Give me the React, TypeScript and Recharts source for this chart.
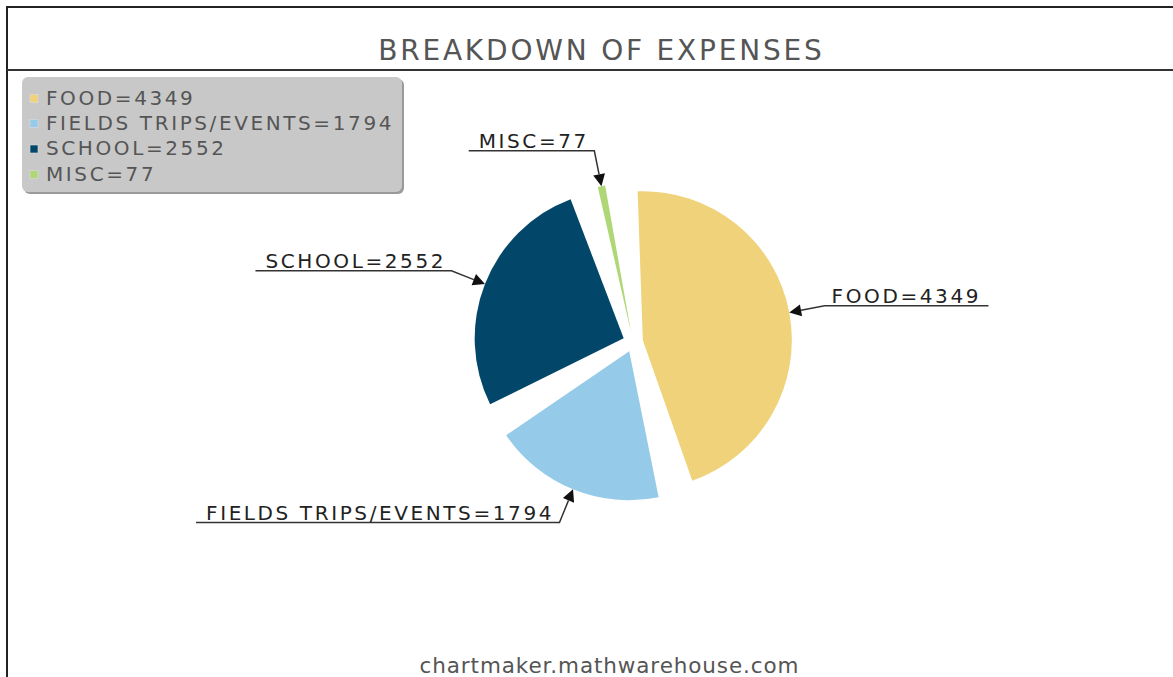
import React from 'react';
import { PieChart, Pie, Cell, Sector } from 'recharts';

const categories = ['FOOD', 'FIELDS TRIPS/EVENTS', 'SCHOOL', 'MISC'];
const amounts = [4349, 1794, 2552, 77];
const colors = ['#EFD279', '#95CBE9', '#024769', '#AFD775'];

const chartTitle = 'BREAKDOWN OF EXPENSES';
const footer = 'chartmaker.mathwarehouse.com';

const data = categories.map((name, i) => ({ name, value: amounts[i] }));

const EXPLODE = 10;
const LEADER = 36;
const RAD = Math.PI / 180;
const FONT = '"DejaVu Sans", Verdana, sans-serif';
const LABEL_SIZE = 20;
const LABEL_LS = 2.6;

// width of a label (canvas measure + letter spacing)
let ctx: CanvasRenderingContext2D | null = null;
function textWidth(text: string, size: number, ls: number) {
  if (!ctx) ctx = document.createElement('canvas').getContext('2d');
  if (!ctx) return text.length * size * 0.7;
  ctx.font = `${size}px "DejaVu Sans"`;
  return ctx.measureText(text).width + ls * (text.length - 1);
}

// each slice pushed out along its mid angle
const ExplodedSlice = (p: any) => {
  const dx = EXPLODE * Math.cos(-p.midAngle * RAD);
  const dy = EXPLODE * Math.sin(-p.midAngle * RAD);
  return (
    <Sector
      cx={p.cx + dx}
      cy={p.cy + dy}
      innerRadius={p.innerRadius}
      outerRadius={p.outerRadius}
      startAngle={p.startAngle}
      endAngle={p.endAngle}
      fill={p.fill}
      stroke="none"
    />
  );
};

const SliceLabel = (p: any) => {
  const i = p.index;
  const ux = Math.cos(-p.midAngle * RAD);
  const uy = Math.sin(-p.midAngle * RAD);
  const vx = p.cx + EXPLODE * ux;
  const vy = p.cy + EXPLODE * uy;
  const tipX = vx + p.outerRadius * ux;
  const tipY = vy + p.outerRadius * uy;
  const kneeX = tipX + LEADER * ux;
  const kneeY = tipY + LEADER * uy;
  const text = `${categories[i]}=${amounts[i]}`;
  const w = textWidth(text, LABEL_SIZE, LABEL_LS);
  const right = ux >= 0;
  const textX = right ? kneeX + 7 : kneeX - 8 - w;
  const endX = right ? kneeX + 7 + w + 10 : kneeX - 8 - w - 10;

  // arrow head pointing at the slice edge
  const ah = 12, aw = 6;
  const bx = tipX + ah * ux, by = tipY + ah * uy;
  const px = -uy, py = ux;
  const arrow = `M${tipX},${tipY} L${bx + aw * px},${by + aw * py} L${bx - aw * px},${by - aw * py} Z`;

  return (
    <g>
      <polyline
        points={`${bx},${by} ${kneeX},${kneeY} ${endX},${kneeY}`}
        fill="none"
        stroke="#333"
        strokeWidth={1.5}
      />
      <path d={arrow} fill="#111" />
      <text
        x={textX}
        y={kneeY - 3}
        fontFamily={FONT}
        fontSize={LABEL_SIZE}
        letterSpacing={LABEL_LS}
        fill="#222"
      >
        {text}
      </text>
    </g>
  );
};

const legendRows = [104.5, 129.5, 155, 180.5];

export default function App() {
  return (
    <div style={{ position: 'absolute', left: 0, top: 0, width: 1173, height: 677, background: '#fff', overflow: 'hidden' }}>
      <svg width={1173} height={677} style={{ position: 'absolute', left: 0, top: 0 }}>
        <line x1={7} y1={7} x2={1173} y2={7} stroke="#222" strokeWidth={2} />
        <line x1={7} y1={6} x2={7} y2={677} stroke="#222" strokeWidth={2} />
        <line x1={7} y1={70} x2={1173} y2={70} stroke="#333" strokeWidth={2} />
        <text x={601.4} y={60} textAnchor="middle" fontFamily={FONT} fontSize={28} letterSpacing={2.8} fill="#555">
          {chartTitle}
        </text>
        <text x={609.5} y={673} textAnchor="middle" fontFamily={FONT} fontSize={21.5} letterSpacing={0.9} fill="#555">
          {footer}
        </text>
        <rect x={24} y={79} width={380} height={115} rx={6} fill="#9a9a9a" />
        <rect x={22} y={77} width={380} height={115} rx={6} fill="#c8c8c8" />
        {categories.map((c, i) => (
          <g key={c}>
            <rect x={30} y={legendRows[i] - 10} width={8} height={8} fill={colors[i]} stroke="#ddd" strokeWidth={0.6} />
            <text x={46} y={legendRows[i]} fontFamily={FONT} fontSize={LABEL_SIZE} letterSpacing={LABEL_LS} fill="#555">
              {`${c}=${amounts[i]}`}
            </text>
          </g>
        ))}
      </svg>
      <div style={{ position: 'absolute', left: 0, top: 0 }}>
        <PieChart width={1173} height={677} margin={{ top: 0, right: 0, bottom: 0, left: 0 }}>
          <Pie
            data={data}
            dataKey="value"
            nameKey="name"
            cx={633}
            cy={342}
            outerRadius={149}
            startAngle={92}
            endAngle={-268}
            paddingAngle={8}
            stroke="none"
            shape={ExplodedSlice}
            activeShape={ExplodedSlice}
            inactiveShape={ExplodedSlice}
            label={SliceLabel}
            labelLine={false}
            isAnimationActive={false}
          >
            {data.map((d, i) => (
              <Cell key={d.name} fill={colors[i]} />
            ))}
          </Pie>
        </PieChart>
      </div>
    </div>
  );
}
